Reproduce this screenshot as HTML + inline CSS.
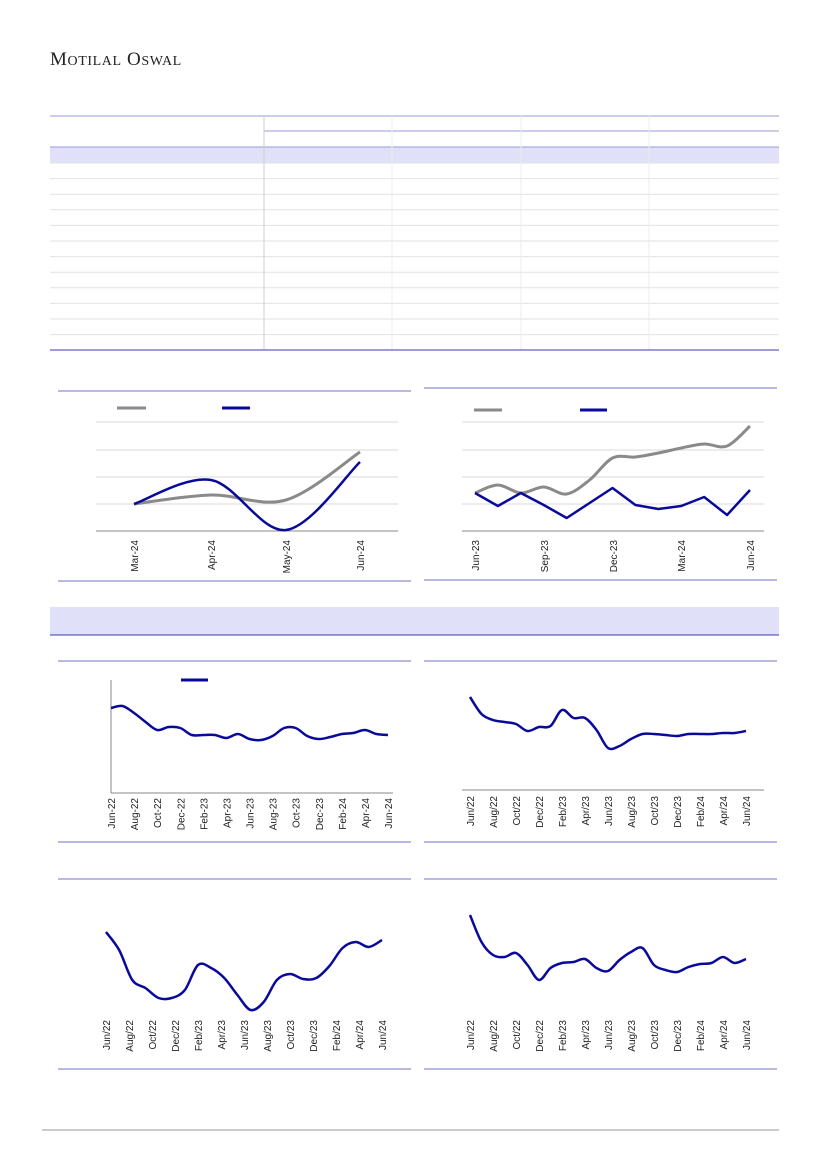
<!DOCTYPE html>
<html><head><meta charset="utf-8"><style>
body{margin:0;background:#fff;width:827px;height:1169px;overflow:hidden;font-family:"Liberation Sans",sans-serif}
svg{position:absolute;left:0;top:0}
</style></head><body>
<svg id="s" width="827" height="1169" xmlns="http://www.w3.org/2000/svg">
<text x="50" y="65" font-family="Liberation Serif,serif" font-size="19" fill="#222" letter-spacing="0.6">M<tspan font-size="14">OTILAL</tspan> O<tspan font-size="14">SWAL</tspan></text>
</svg>
<script>
const s=document.getElementById('s');let h='';
function L(x1,y1,x2,y2,c,w){h+=`<line x1="${x1}" y1="${y1}" x2="${x2}" y2="${y2}" stroke="${c}" stroke-width="${w||1}"/>`;}
L(50,116,779,116,'#9a9ade');L(264,131,779,131,'#9a9ade');
h+=`<rect x="50" y="147" width="729" height="16" fill="#e0e0f8"/>`;L(50,147,779,147,'#9a9ade');
for(let i=0;i<12;i++){let y=163+i*15.6;L(50,y,779,y,'#e2e2e2');}
L(264,116,264,350,'#cfcfcf');[392,521,649].forEach(x=>L(x,116,x,350,'#ececec'));
L(50,350,779,350,'#3a3ab0');
h+=`<rect x="50" y="607" width="729" height="28" fill="#e0e0f8"/>`;L(50,635,779,635,'#3a3ab0');
L(42,1130,779,1130,'#999');
function smooth(pts,c,w){let d=`M${pts[0][0]},${pts[0][1]}`;for(let i=0;i<pts.length-1;i++){let p0=pts[i-1]||pts[i],p1=pts[i],p2=pts[i+1],p3=pts[i+2]||p2;d+=` C${p1[0]+(p2[0]-p0[0])/6},${p1[1]+(p2[1]-p0[1])/6} ${p2[0]-(p3[0]-p1[0])/6},${p2[1]-(p3[1]-p1[1])/6} ${p2[0]},${p2[1]}`;}h+=`<path d="${d}" fill="none" stroke="${c}" stroke-width="${w}" stroke-linejoin="round"/>`;}
function ser(x0,x1,vals,c,w,sm){let n=vals.length;let p=vals.map((v,i)=>[x0+(x1-x0)*i/(n-1),v]);if(sm)smooth(p,c,w);else h+=`<polyline points="${p.map(q=>q.join(',')).join(' ')}" fill="none" stroke="${c}" stroke-width="${w}" stroke-linejoin="round"/>`;}
function lab(x,y,t){h+=`<text transform="translate(${x+4},${y}) rotate(-90)" text-anchor="end" font-size="10" fill="#222">${t}</text>`;}
const G='#8a8a8a',B='#0a0a9a',P='#7070c8';
L(58,391,411,391,P);L(58,581,411,581,P);
[422,450,477,504].forEach(y=>L(96,y,398,y,'#d9d9d9'));L(96,531,398,531,'#888');
L(117,408,146,408,G,3);L(222,408,250,408,B,3);
smooth([[134,504],[211,495],[286,500],[360,452]],G,3);
smooth([[134,504],[211,480],[286,530],[360,462]],B,2.5);
[['Mar-24',134],['Apr-24',211],['May-24',286],['Jun-24',360]].forEach(a=>lab(a[1],540,a[0]));
L(424,388,777,388,P);L(424,580,777,580,P);
[422,450,477,504].forEach(y=>L(462,y,764,y,'#d9d9d9'));L(462,531,764,531,'#888');
L(474,410,502,410,G,3);L(580,410,607,410,B,3);
ser(475,750,[493,485,493,487,494,480,458,457,453,448,444,446,426],G,3,true);
ser(475,750,[493,506,493,505,518,503,488,505,509,506,497,515,490],B,2.5,false);
[['Jun-23',475],['Sep-23',544],['Dec-23',613],['Mar-24',681],['Jun-24',750]].forEach(a=>lab(a[1],540,a[0]));
const m24=['Jun/22','Aug/22','Oct/22','Dec/22','Feb/23','Apr/23','Jun/23','Aug/23','Oct/23','Dec/23','Feb/24','Apr/24','Jun/24'];
const m24b=m24.map(t=>t.replace('/','-'));
L(58,661,411,661,P);L(58,842,411,842,P);
L(111,680,111,793,'#888');L(111,793,393,793,'#888');L(181,680,208,680,B,3);
ser(111,388,[708,706,713,722,730,727,728,735,735,735,738,734,739,740,736,728,728,736,739,737,734,733,730,734,735],B,2.5,true);
m24b.forEach((t,i)=>lab(111+i*277/12,798,t));
L(424,661,777,661,P);L(424,842,777,842,P);L(462,790,764,790,'#888');
ser(470,746,[697,714,720,722,724,731,727,726,710,718,718,730,748,746,739,734,734,735,736,734,734,734,733,733,731],B,2.5,true);
m24.forEach((t,i)=>lab(470+i*276/12,796,t));
L(58,879,411,879,P);L(58,1069,411,1069,P);
ser(106,382,[932,950,980,988,998,998,990,965,968,978,995,1010,1002,980,974,979,978,966,948,942,947,940],B,2.5,true);
m24.forEach((t,i)=>lab(106+i*276/12,1020,t));
L(424,879,777,879,P);L(424,1069,777,1069,P);
ser(470,746,[915,942,955,957,953,965,980,968,963,962,959,968,971,960,952,948,965,970,972,967,964,963,957,963,959],B,2.5,true);
m24.forEach((t,i)=>lab(470+i*276/12,1020,t));
s.insertAdjacentHTML('beforeend',h);
</script>
</body></html>
